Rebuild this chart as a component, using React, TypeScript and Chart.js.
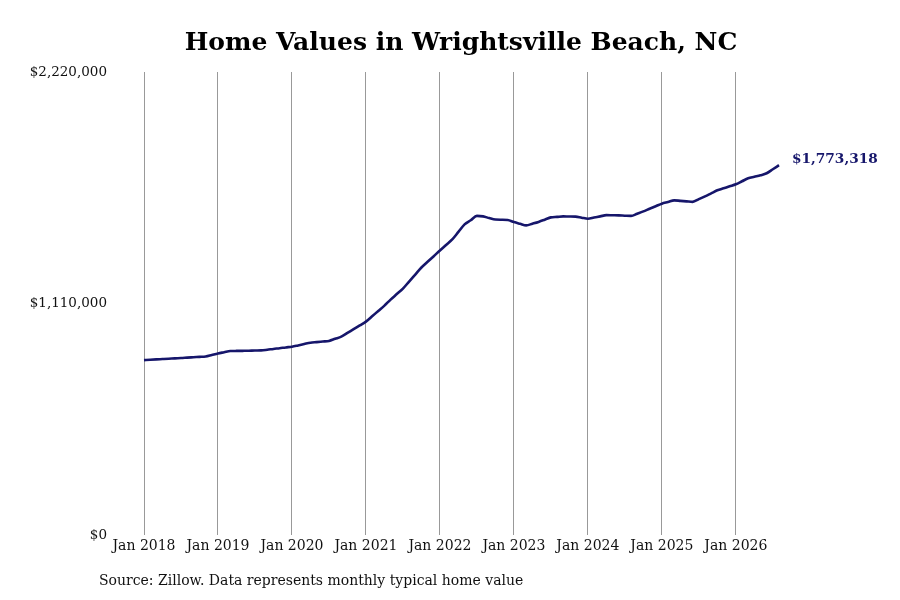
import { useEffect, useRef } from "react"
import { Chart, registerables } from "chart.js"

Chart.register(...registerables)

const FONT = "'DejaVu Serif', serif"
const NAVY = "#16166b"

const startYear = 2018
const monthNames = ["Jan", "Feb", "Mar", "Apr", "May", "Jun", "Jul", "Aug", "Sep", "Oct", "Nov", "Dec"]

// typical home value, monthly from Jan 2018
const homeValues = [
  839000, 841000, 842800, 844200, 845700, 847600, 849000, 851000, 852900, 854800, 856700, 863900,
  871100, 876900, 882700, 883200, 883600, 884100, 885100, 885600, 888900, 892800, 896100, 900000,
  903300, 909600, 916300, 922600, 925400, 928300, 931200, 941300, 951400, 969200, 987400, 1005200,
  1023500, 1048900, 1074900, 1100300, 1129200, 1155600, 1182000, 1215700, 1249300, 1282900, 1310300, 1337200,
  1364600, 1391000, 1417500, 1453500, 1489600, 1509700, 1530400, 1528000, 1519800, 1513000, 1512100, 1511000,
  1500600, 1492400, 1484700, 1492900, 1501600, 1512100, 1523200, 1525600, 1528000, 1527500, 1527000, 1521700,
  1516900, 1522700, 1528000, 1533800, 1533300, 1532800, 1531400, 1530400, 1541000, 1552000, 1564500, 1576500,
  1589000, 1596700, 1604900, 1602500, 1600100, 1597700, 1610600, 1624100, 1638500, 1652900, 1662500, 1672100,
  1681800, 1696200, 1710600, 1717800, 1725000, 1734600, 1753800, 1773318,
]

const monthLabels = homeValues.map(
  (_, i) => `${monthNames[i % 12]} ${startYear + Math.floor(i / 12)}`
)

const yTicks = [0, 1110000, 2220000]

const money = (v: number) => "$" + Math.round(v).toLocaleString("en-US")

const extrasPlugin = {
  id: "extras",
  afterDatasetsDraw(chart: Chart) {
    const { ctx } = chart
    const meta = chart.getDatasetMeta(0)
    const last = meta.data[meta.data.length - 1]
    ctx.save()
    ctx.textBaseline = "middle"

    // title
    ctx.font = `bold 25px ${FONT}`
    ctx.fillStyle = "#000"
    ctx.textAlign = "center"
    ctx.fillText("Home Values in Wrightsville Beach, NC", 461, 43)

    // end label
    if (last) {
      ctx.font = `bold 13.7px ${FONT}`
      ctx.fillStyle = NAVY
      ctx.textAlign = "left"
      ctx.fillText(money(homeValues[homeValues.length - 1]), last.x + 13, last.y - 6)
    }

    // source
    ctx.font = `14px ${FONT}`
    ctx.fillStyle = "#111"
    ctx.textAlign = "left"
    ctx.fillText("Source: Zillow. Data represents monthly typical home value", 99, 581)
    ctx.restore()
  },
}

export default function App() {
  const chartRef = useRef<HTMLCanvasElement>(null)
  const chartInstance = useRef<Chart | null>(null)

  useEffect(() => {
    document.body.style.margin = "0"
    if (!chartRef.current) return
    if (chartInstance.current) chartInstance.current.destroy()

    const ctx = chartRef.current.getContext("2d")
    if (!ctx) return

    chartInstance.current = new Chart(ctx, {
      type: "line",
      data: {
        labels: monthLabels,
        datasets: [
          {
            data: homeValues,
            borderColor: NAVY,
            borderWidth: 2.6,
            pointRadius: 0,
            cubicInterpolationMode: "monotone",
            fill: false,
          },
        ],
      },
      options: {
        responsive: false,
        animation: false,
        layout: { padding: { left: 0, right: 121, bottom: 42, top: 72 } },
        plugins: {
          legend: { display: false },
          tooltip: { enabled: false },
          title: { display: false },
        },
        scales: {
          x: {
            type: "category",
            offset: false,
            border: { display: false },
            grid: {
              drawTicks: false,
              lineWidth: 1,
              color: (c: any) => (c.index % 12 === 0 ? "#999999" : "rgba(0,0,0,0)"),
            },
            ticks: {
              autoSkip: false,
              maxRotation: 0,
              padding: 3,
              color: "#111",
              font: { family: FONT, size: 14 },
              callback: (_v: any, i: number) => (i % 12 === 0 ? monthLabels[i] : ""),
            },
          },
          y: {
            min: 0,
            max: 2220000,
            border: { display: false },
            grid: { display: false, drawTicks: false },
            afterFit: (scale: any) => {
              scale.width = 144
            },
            afterBuildTicks: (scale: any) => {
              scale.ticks = yTicks.map((value) => ({ value }))
            },
            ticks: {
              padding: 37,
              color: "#111",
              font: { family: FONT, size: 13.5 },
              callback: (v: any) => money(Number(v)),
            },
          },
        },
      },
      plugins: [extrasPlugin],
    })

    return () => {
      if (chartInstance.current) {
        chartInstance.current.destroy()
        chartInstance.current = null
      }
    }
  }, [])

  return (
    <div style={{ width: 900, height: 600, background: "#fff" }}>
      <canvas ref={chartRef} width={900} height={600} />
    </div>
  )
}
